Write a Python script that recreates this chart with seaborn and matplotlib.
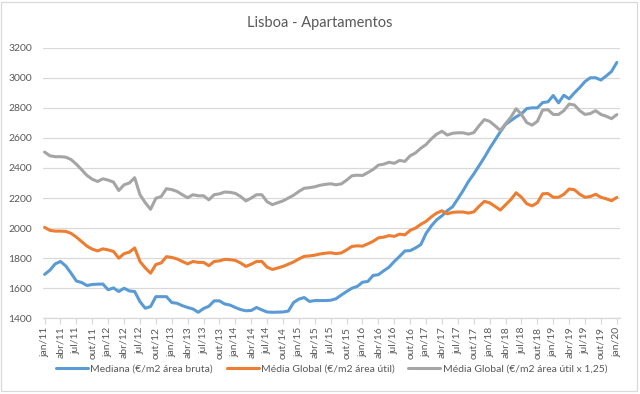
import matplotlib
matplotlib.use("Agg")
import matplotlib.pyplot as plt
import seaborn as sns
import pandas as pd
from matplotlib.patches import Rectangle

# meses jan/11 .. jan/20
meses_pt = ['jan', 'fev', 'mar', 'abr', 'mai', 'jun', 'jul', 'ago', 'set', 'out', 'nov', 'dez']
datas = [f"{meses_pt[m]}/{a:02d}" for a in range(11, 21) for m in range(12)][:109]

mediana = [1692, 1720, 1762, 1778, 1748, 1700, 1648, 1638, 1618, 1625, 1627, 1628,
           1590, 1602, 1578, 1600, 1582, 1578, 1511, 1467, 1478, 1544, 1544, 1544,
           1505, 1500, 1484, 1472, 1462, 1440, 1465, 1480, 1516, 1516, 1495, 1488,
           1472, 1458, 1450, 1452, 1472, 1456, 1442, 1440, 1441, 1442, 1448, 1505,
           1528, 1538, 1512, 1518, 1518, 1518, 1520, 1530, 1555, 1578, 1600, 1612,
           1640, 1645, 1685, 1690, 1716, 1740, 1778, 1812, 1848, 1850, 1868, 1890,
           1965, 2015, 2055, 2082, 2116, 2142, 2195, 2250, 2310, 2360, 2415, 2470,
           2530, 2585, 2640, 2690, 2715, 2740, 2760, 2795, 2800, 2800, 2835, 2840,
           2882, 2833, 2884, 2860, 2900, 2935, 2975, 3000, 3000, 2985, 3012, 3042,
           3102]

media_util = [2005, 1985, 1980, 1980, 1978, 1965, 1940, 1910, 1880, 1860, 1848, 1862,
              1855, 1845, 1800, 1830, 1840, 1868, 1778, 1735, 1700, 1758, 1768, 1810,
              1805, 1795, 1778, 1762, 1778, 1772, 1772, 1750, 1778, 1782, 1792, 1790,
              1785, 1768, 1745, 1760, 1778, 1778, 1740, 1725, 1735, 1745, 1760, 1775,
              1795, 1812, 1815, 1820, 1828, 1833, 1836, 1830, 1835, 1855, 1878, 1882,
              1880, 1895, 1912, 1935, 1940, 1950, 1945, 1960, 1955, 1985, 2000, 2025,
              2045, 2075, 2100, 2115, 2095, 2105, 2107, 2107, 2100, 2108, 2145, 2178,
              2168, 2145, 2120, 2155, 2190, 2235, 2205, 2162, 2148, 2168, 2228, 2230,
              2205, 2205, 2225, 2260, 2255, 2225, 2205, 2210, 2225, 2205, 2195, 2182,
              2204]

media_125 = [2506, 2481, 2475, 2475, 2472, 2456, 2425, 2388, 2350, 2325, 2310, 2328,
             2319, 2306, 2250, 2288, 2300, 2335, 2222, 2169, 2125, 2198, 2210, 2262,
             2256, 2244, 2222, 2202, 2222, 2215, 2215, 2188, 2222, 2228, 2240, 2238,
             2231, 2210, 2181, 2200, 2222, 2222, 2175, 2156, 2169, 2181, 2200, 2219,
             2244, 2265, 2269, 2275, 2285, 2291, 2295, 2288, 2294, 2319, 2348, 2352,
             2350, 2369, 2390, 2419, 2425, 2438, 2431, 2450, 2444, 2481, 2500, 2531,
             2556, 2594, 2625, 2644, 2619, 2631, 2634, 2634, 2625, 2635, 2681, 2722,
             2710, 2681, 2650, 2694, 2738, 2794, 2756, 2702, 2685, 2710, 2785, 2788,
             2756, 2756, 2781, 2825, 2819, 2781, 2756, 2762, 2781, 2756, 2744, 2728,
             2755]

series = ['Mediana (€/m2 área bruta)',
          'Média Global (€/m2 área útil)',
          'Média Global (€/m2 área útil x 1,25)']
cores = ['#5B9BD5', '#ED7D31', '#A5A5A5']

df = pd.concat([
    pd.DataFrame({'idx': range(len(datas)), 'valor': v, 'serie': s})
    for s, v in zip(series, [mediana, media_util, media_125])
])

sns.set_style('white')
plt.rcParams['font.family'] = ['Lato', 'DejaVu Sans']
texto = '#595959'
grelha = '#D9D9D9'

fig = plt.figure(figsize=(6.4, 3.94), dpi=100)
ax = fig.add_axes([43 / 640, 1 - 318.3 / 394, 577 / 640, 270.6 / 394])

sns.lineplot(data=df, x='idx', y='valor', hue='serie', hue_order=series,
             palette=cores, linewidth=2.2, ax=ax)

ax.set_xlim(-0.3, 108.6)
ax.set_ylim(1400, 3200)
ax.set_yticks(range(1400, 3201, 200))
ax.yaxis.grid(True, color=grelha, linewidth=0.9)
ax.set_axisbelow(True)
ax.set_xticks(range(0, len(datas), 3))
ax.set_xticklabels(datas[::3], rotation=90)
ax.tick_params(axis='x', colors=grelha, labelcolor=texto, labelsize=7.5,
               length=4, width=0.9, direction='out', pad=2, bottom=True)
ax.tick_params(axis='y', length=0, labelcolor=texto, labelsize=7.5, pad=8)
for lado in ['left', 'right', 'top']:
    ax.spines[lado].set_visible(False)
ax.spines['bottom'].set_color(grelha)
ax.spines['bottom'].set_linewidth(0.9)
ax.set_xlabel('')
ax.set_ylabel('')

fig.suptitle('Lisboa - Apartamentos', x=0.5, y=1 - 23 / 394, va='center',
             fontsize=10.5, color=texto)

leg = ax.legend(loc='center', bbox_to_anchor=(0.5, (318.3 - 369) / 270.6),
                ncol=3, frameon=False, fontsize=7.5, handlelength=3.1,
                handletextpad=0.2, columnspacing=1.3)
for t in leg.get_texts():
    t.set_color(texto)

fig.patches.append(Rectangle((1 / 640, 3 / 394), 636 / 640, 389 / 394,
                             transform=fig.transFigure, fill=False,
                             edgecolor=grelha, linewidth=0.9))

fig.savefig('out.png', dpi=100)
